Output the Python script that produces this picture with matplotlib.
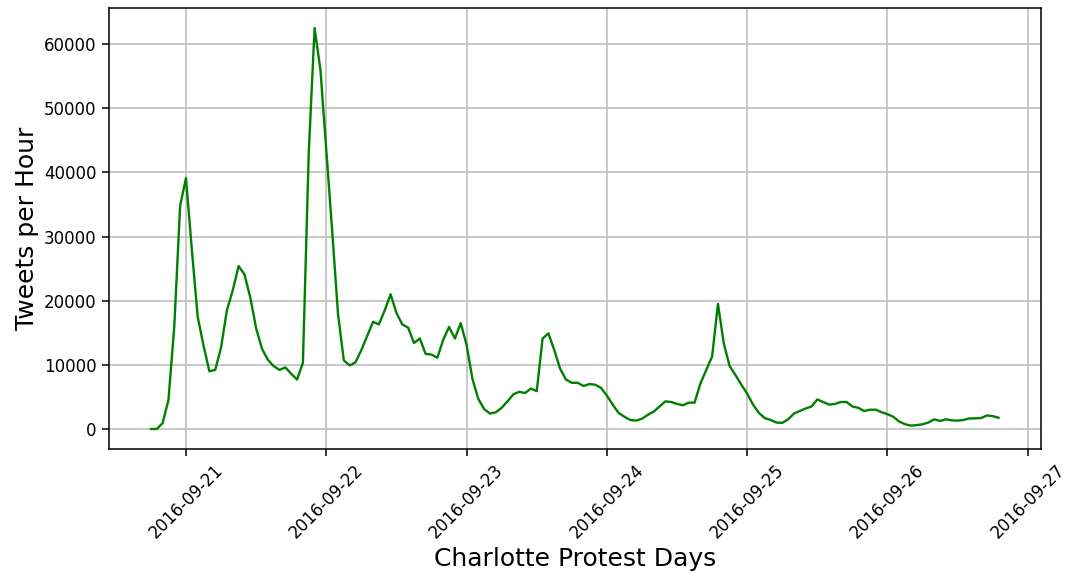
import numpy as np
import pandas as pd
import matplotlib
matplotlib.use("Agg")
import matplotlib.pyplot as plt
import matplotlib.dates as mdates

# Hourly tweet counts during the Charlotte protests
start_time = "2016-09-20 18:00"
tweets_sep20 = [0, 0, 900, 4500, 16000, 34800]
tweets_sep21 = [39100, 28000, 17500, 13000, 9000, 9200, 12700, 18500, 21600, 25400,
                24100, 20500, 15700, 12500, 10800, 9800, 9200, 9600, 8600, 7700,
                10300, 43000, 62500, 56000]
tweets_sep22 = [43600, 31000, 18000, 10700, 9900, 10400, 12300, 14500, 16700, 16300,
                18500, 21000, 18100, 16300, 15800, 13400, 14100, 11700, 11600, 11100,
                13900, 15900, 14100, 16500]
tweets_sep23 = [13100, 7800, 4700, 3100, 2400, 2600, 3300, 4300, 5400, 5800,
                5600, 6300, 5900, 14100, 14900, 12300, 9400, 7700, 7200, 7200,
                6700, 7000, 6900, 6400]
tweets_sep24 = [5200, 3800, 2500, 1900, 1400, 1300, 1600, 2200, 2700, 3500,
                4300, 4200, 3900, 3700, 4100, 4100, 7100, 9200, 11300, 19500,
                13300, 9800, 8400, 6900]
tweets_sep25 = [5500, 3800, 2500, 1700, 1400, 1000, 950, 1500, 2400, 2800,
                3200, 3500, 4600, 4200, 3800, 3900, 4200, 4200, 3500, 3300,
                2800, 3000, 3000, 2600]
tweets_sep26 = [2300, 1900, 1150, 750, 520, 600, 730, 1000, 1500, 1250,
                1500, 1350, 1300, 1400, 1650, 1650, 1700, 2100, 2000, 1750]

counts = (tweets_sep20 + tweets_sep21 + tweets_sep22 + tweets_sep23
          + tweets_sep24 + tweets_sep25 + tweets_sep26)
hours = pd.date_range(start_time, periods=len(counts), freq="h")

fig = plt.figure(figsize=(10.66, 5.73), dpi=100)
ax = fig.add_axes([0.1018, 0.2164, 0.8747, 0.7696])

ax.plot(hours, counts, color="green", linewidth=1.7)

ax.xaxis.set_major_locator(mdates.DayLocator())
ax.xaxis.set_major_formatter(mdates.DateFormatter("%Y-%m-%d"))
ax.grid(True, color="#bfbfbf", linewidth=1.2)
ax.set_axisbelow(True)

for lbl in ax.get_xticklabels():
    lbl.set_rotation(45)
ax.tick_params(axis="both", labelsize=12, length=5, width=1.1)
for spine in ax.spines.values():
    spine.set_linewidth(1.1)

ax.set_xlabel("Charlotte Protest Days", fontsize=18)
ax.set_ylabel("Tweets per Hour", fontsize=18)

fig.savefig("out.png", dpi=100)
